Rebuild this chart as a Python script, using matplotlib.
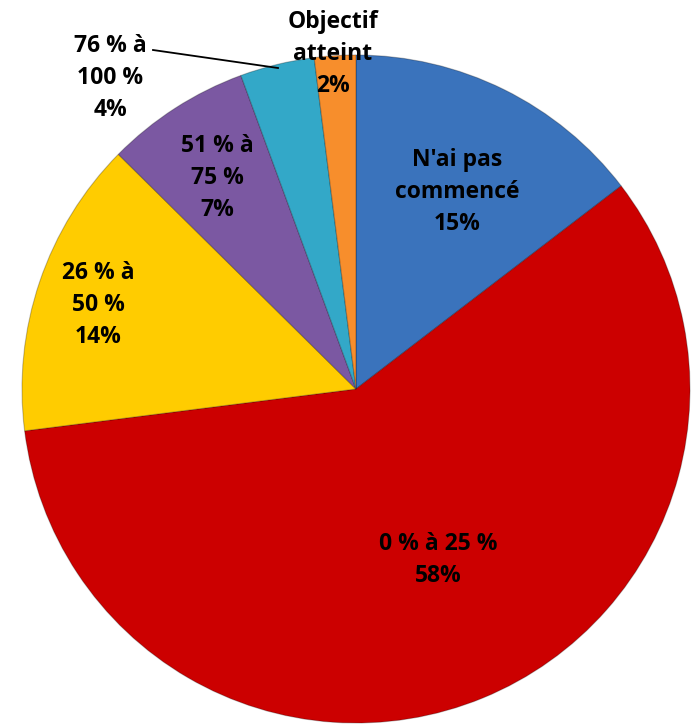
import matplotlib
matplotlib.use("Agg")
import matplotlib.pyplot as plt

# slice data, clockwise from 12 o'clock
categories = ["N'ai pas\ncommencé", "0 % à 25 %", "26 % à\n50 %", "51 % à\n75 %",
              "76 % à\n100 %", "Objectif\natteint"]
values = [14.6, 58.4, 14.4, 7.0, 3.6, 2.0]
colors = ["#3A73BC", "#CC0000", "#FFCC00", "#7B58A2", "#33A8C8", "#F78E2C"]

W, H = 696, 724
fig = plt.figure(figsize=(W / 100, H / 100), dpi=100)
ax = fig.add_axes([22 / W, 1 / H, 668 / W, 668 / H])

wedges, _ = ax.pie(values, colors=colors, startangle=90, counterclock=False,
                   radius=1, wedgeprops=dict(edgecolor=(0, 0, 0, 0.25), linewidth=0.8))
ax.set_xlim(-1, 1)
ax.set_ylim(-1, 1)
ax.set_aspect("equal")
ax.axis("off")


def px(x, y):
    return x / W, 1 - y / H


# label centres in picture pixels
label_pos = [(457, 192), (438, 560), (98, 305), (217, 178), (110, 78), (333, 54)]
font = dict(family=["Open Sans", "DejaVu Sans"], fontsize=16.5, fontweight="bold",
            color="black", ha="center", va="center", linespacing=1.42)

for name, v, (x, y) in zip(categories, values, label_pos):
    fig.text(*px(x, y), f"{name}\n{v:.0f}%", **font)

# leader line for the small teal slice
fig.add_artist(plt.Line2D([153 / W, 278 / W], [1 - 50 / H, 1 - 68 / H],
                          color="black", linewidth=1.3, transform=fig.transFigure))

fig.savefig("out.png", dpi=100)
